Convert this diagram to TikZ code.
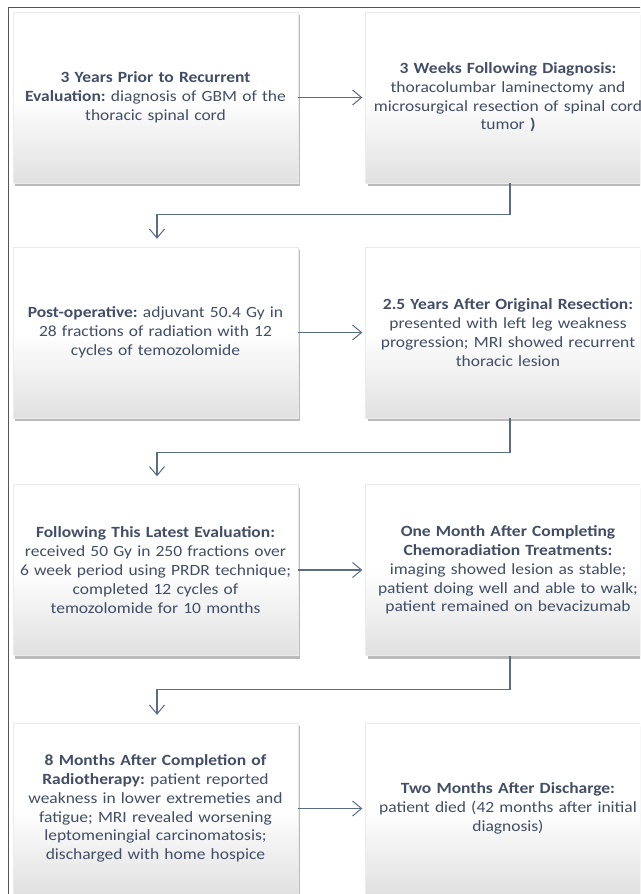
\documentclass[tikz,border=0pt]{standalone}
\usepackage{fontspec}
\setmainfont{Carlito}[FakeStretch=1.12]
\usetikzlibrary{arrows.meta,shadows,calc}
\definecolor{txt}{HTML}{424E66}
\definecolor{conn}{HTML}{5C6B86}
\definecolor{framec}{HTML}{555555}
\frenchspacing
\begin{document}
\begin{tikzpicture}[x=1pt,y=-1pt,
  box/.style={minimum width=285pt, minimum height=171pt, text width=280pt,
    inner xsep=2.5pt, align=center, font=\fontsize{15.6}{18.8}\selectfont,
    text=txt, draw=black!8, top color=white, bottom color=black!12, middle color=white,
    drop shadow={shadow xshift=2pt, shadow yshift=-3pt, opacity=0.45, fill=black!60}},
  conn/.style={draw=conn, line width=1.1pt, -{Straight Barb[length=9pt,width=15pt,line width=1pt]}}]
\clip (0,0) rectangle (640,894);
\fill[white] (0,0) rectangle (640,894);
\draw[framec, line width=0.9pt] (8,900) -- (8,7) -- (645,7);

\node[box] (b1) at (155.5,97.5) {\textbf{3 Years Prior to Recurrent}\\ \textbf{Evaluation:} diagnosis of GBM of the\\ thoracic spinal cord};
\node[box] (b2) at (508,97.5) {\textbf{3 Weeks Following Diagnosis:}\\ thoracolumbar laminectomy and\\ microsurgical resection of spinal cord\\ tumor \textbf{)}};
\node[box] (b3) at (155.5,332.5) {\textbf{Post-operative:} adjuvant 50.4 Gy in\\ 28 fractions of radiation with 12\\ cycles of temozolomide};
\node[box] (b4) at (508,332.5) {\textbf{2.5 Years After Original Resection:}\\ presented with left leg weakness\\ progression; MRI showed recurrent\\ thoracic lesion};
\node[box] (b5) at (155.5,570) {\textbf{Following This Latest Evaluation:}\\ received 50 Gy in 250 fractions over\\ 6 week period using PRDR technique;\\ completed 12 cycles of\\ temozolomide for 10 months};
\node[box] (b6) at (508,570) {\textbf{One Month After Completing}\\ \textbf{Chemoradiation Treatments:}\\ imaging showed lesion as stable;\\ patient doing well and able to walk;\\ patient remained on bevacizumab};
\node[box] (b7) at (155.5,808.5) {\textbf{8 Months After Completion of}\\ \textbf{Radiotherapy:} patient reported\\ weakness in lower extremeties and\\ fatigue; MRI revealed worsening\\ leptomeningial carcinomatosis;\\ discharged with home hospice};
\node[box] (b8) at (508,808.5) {\textbf{Two Months After Discharge:}\\ patient died (42 months after initial\\ diagnosis)};

\draw[conn, shorten >=3pt] (b1.east) -- (b2.west);
\draw[conn, shorten >=3pt] (b3.east) -- (b4.west);
\draw[conn, shorten >=3pt] (b5.east) -- (b6.west);
\draw[conn, shorten >=3pt] (b7.east) -- (b8.west);
\draw[conn, shorten >=8pt] ([xshift=2pt]b2.south) -- ++(0,31) -| ([xshift=1.5pt]b3.north);
\draw[conn, shorten >=8pt] ([xshift=2pt]b4.south) -- ++(0,34) -| ([xshift=1.5pt]b5.north);
\draw[conn, shorten >=8pt] ([xshift=2pt]b6.south) -- ++(0,34) -| ([xshift=1.5pt]b7.north);
\end{tikzpicture}
\end{document}
